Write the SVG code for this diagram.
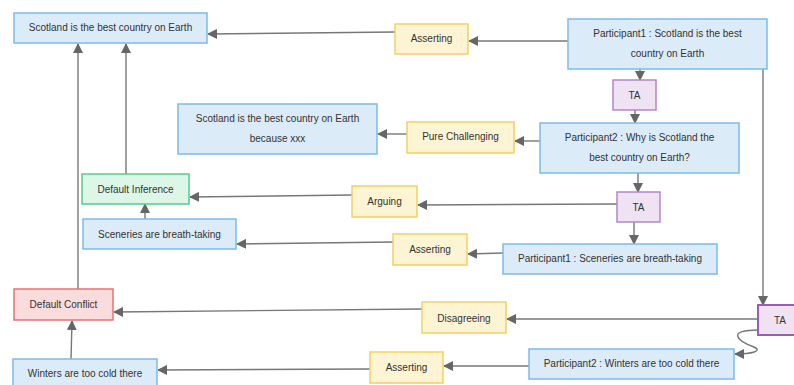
<svg xmlns="http://www.w3.org/2000/svg" width="794" height="385" viewBox="0 0 794 385">
<defs>
<marker id="ah" viewBox="0 0 10 10" refX="9" refY="5" markerWidth="10" markerHeight="10" markerUnits="userSpaceOnUse" orient="auto">
<path d="M0,0 L10,5 L0,10 Z" fill="#666"/>
</marker>
<style>
text{font-family:"Liberation Sans",Arial,sans-serif;font-size:10px;fill:#333;text-anchor:middle}
.blue{fill:#dcebf8;stroke:#7dbbe8;stroke-width:1.5}
.yel{fill:#fdf4d3;stroke:#f3d163;stroke-width:1.5}
.grn{fill:#dcf7e7;stroke:#4fcf86;stroke-width:1.5}
.red{fill:#fadcdc;stroke:#e57373;stroke-width:1.5}
.pur{fill:#eee2f3;stroke:#b487cc;stroke-width:1.5}
.pur2{fill:#eee2f3;stroke:#9b5cb8;stroke-width:2}
.c{fill:none;stroke:#777;stroke-width:1.4;marker-end:url(#ah)}
.cn{fill:none;stroke:#999;stroke-width:1.4}
</style>
</defs>
<rect width="794" height="385" fill="#fff"/>
<g id="connectors">
<path class="c" d="M395,32 L208,34"/>
<path class="c" d="M568,41 L469,41"/>
<path class="c" d="M640,69 L640,80"/>
<path class="c" d="M635,110 L635,123"/>
<path class="c" d="M540,141 L515,141"/>
<path class="c" d="M407,134 L378,134"/>
<path class="c" d="M638,173 L638,192"/>
<path class="c" d="M617,204 L418,205"/>
<path class="c" d="M352,195 L190,197"/>
<path class="c" d="M634,222 L634,244"/>
<path class="c" d="M503,253 L468,254"/>
<path class="c" d="M393,242 L237,244"/>
<path class="c" d="M145,219 L145,204"/>
<path class="c" d="M126,174 L126,44"/>
<path class="c" d="M78,289 L78,44"/>
<path class="c" d="M763,69 L763,305"/>
<path class="c" d="M758,319 L507,319"/>
<path class="c" d="M422,309 L114,312"/>
<path class="c" d="M758,330 C728,330 735,340 754,347 C763,351 752,354 735,354"/>
<path class="c" d="M529,366 L444,366"/>
<path class="c" d="M370,369 L158,370"/>
<path class="c" d="M71,359 L72,321"/>
</g>
<g id="n1"><rect class="blue" x="14" y="13" width="193" height="30"/><text x="110.5" y="31">Scotland is the best country on Earth</text></g>
<g id="assert1"><rect class="yel" x="395" y="24" width="73" height="30"/><text x="431.5" y="42">Asserting</text></g>
<g id="p1"><rect class="blue" x="568" y="19" width="199" height="50"/><text x="667.5" y="37">Participant1 : Scotland is the best</text><text x="667.5" y="57">country on Earth</text></g>
<g id="ta1"><rect class="pur" x="613" y="80" width="43" height="30"/><text x="634.5" y="99">TA</text></g>
<g id="p2"><rect class="blue" x="540" y="123" width="199" height="50"/><text x="639.5" y="141">Participant2 : Why is Scotland the</text><text x="639.5" y="161">best country on Earth?</text></g>
<g id="pure"><rect class="yel" x="407" y="122" width="107" height="31"/><text x="460.5" y="140">Pure Challenging</text></g>
<g id="because"><rect class="blue" x="178" y="104" width="199" height="50"/><text x="277.5" y="122">Scotland is the best country on Earth</text><text x="277.5" y="142">because xxx</text></g>
<g id="ta2"><rect class="pur" x="617" y="192" width="43" height="30"/><text x="638.5" y="211">TA</text></g>
<g id="arguing"><rect class="yel" x="352" y="186" width="65" height="31"/><text x="384.5" y="205">Arguing</text></g>
<g id="assert2"><rect class="yel" x="393" y="234" width="74" height="31"/><text x="430" y="253">Asserting</text></g>
<g id="p1s"><rect class="blue" x="503" y="244" width="214" height="30"/><text x="610" y="262">Participant1 : Sceneries are breath-taking</text></g>
<g id="di"><rect class="grn" x="82" y="174" width="107" height="30"/><text x="135.5" y="192.5">Default Inference</text></g>
<g id="scen"><rect class="blue" x="83" y="219" width="153" height="30"/><text x="159.5" y="237.5">Sceneries are breath-taking</text></g>
<g id="dc"><rect class="red" x="14" y="289" width="99" height="31"/><text x="63.5" y="307.5">Default Conflict</text></g>
<g id="winters"><rect class="blue" x="13" y="359" width="144" height="31"/><text x="85" y="377">Winters are too cold there</text></g>
<g id="disagree"><rect class="yel" x="422" y="302" width="84" height="31"/><text x="464" y="321.5">Disagreeing</text></g>
<g id="ta3"><rect class="pur2" x="758" y="305" width="44" height="30"/><text x="780" y="323.5">TA</text></g>
<g id="assert3"><rect class="yel" x="370" y="352" width="73" height="31"/><text x="406.5" y="371">Asserting</text></g>
<g id="p2w"><rect class="blue" x="529" y="349" width="205" height="30"/><text x="631.5" y="367">Participant2 : Winters are too cold there</text></g>
</svg>
